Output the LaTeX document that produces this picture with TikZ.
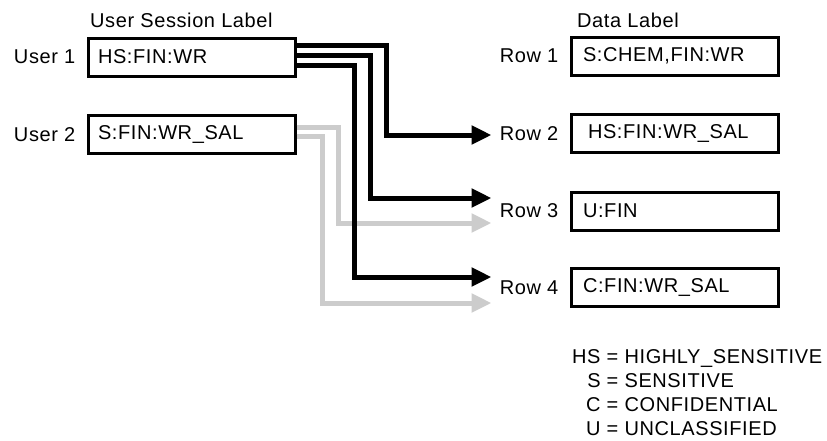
\documentclass[tikz,border=0pt]{standalone}
\usepackage{fontspec}
\setmainfont{Liberation Sans}[LetterSpace=3]
\usetikzlibrary{arrows.meta,positioning}
\definecolor{linegray}{RGB}{204,204,204}
\begin{document}
\begin{tikzpicture}[x=1pt,y=-1pt,
  font=\fontsize{20}{24}\selectfont,
  labelbox/.style={draw=black,line width=3pt,minimum width=207pt,minimum height=38pt,
    inner xsep=10pt,inner ysep=0pt,text width=187pt,align=left},
  sidelabel/.style={inner sep=0pt},
  link/.style={line width=5pt,-{Triangle[length=20pt,width=18pt]}},
  blacklink/.style={link,draw=black},
  graylink/.style={link,draw=linegray}
]
\useasboundingbox (0,0) rectangle (827,440);

% headers
\node[sidelabel,anchor=west] (hleft) at (90,20) {User Session Label};
\node[sidelabel,anchor=west] (hright) at (577,20) {Data Label};

% user boxes
\node[labelbox] (u1) at (191.5,57) {HS:FIN:WR};
\node[labelbox] (u2) at (191.5,134.5) {S:FIN:WR\_SAL};
\node[sidelabel,left=11pt of u1] (u1lab) {User 1};
\node[sidelabel,left=11pt of u2] (u2lab) {User 2};

% data boxes
\node[labelbox,inner xsep=12pt,text width=183pt] (r1) at (674.5,56) {S:CHEM,FIN:WR};
\node[labelbox,inner xsep=12pt,text width=183pt] (r2) at (674.5,133.5) {\hspace*{5pt}HS:FIN:WR\_SAL};
\node[labelbox,inner xsep=12pt,text width=183pt] (r3) at (674.5,211) {U:FIN};
\node[labelbox,inner xsep=12pt,text width=183pt] (r4) at (674.5,287.5) {C:FIN:WR\_SAL};
\node[sidelabel,left=11pt of r1] (r1lab) {Row 1};
\node[sidelabel,left=11pt of r2] (r2lab) {Row 2};
\node[sidelabel,left=11pt of r3] (r3lab) {Row 3};
\node[sidelabel,left=11pt of r4] (r4lab) {Row 4};

% gray connectors (User 2)
\draw[graylink] ([yshift=7.5pt]u2.east) -- ++(42,0) |- ([xshift=-78pt,yshift=-12pt]r3.west);
\draw[graylink] ([yshift=-1.5pt]u2.east) -- ++(26,0) |- ([xshift=-78pt,yshift=-15.5pt]r4.west);

% black connectors (User 1)
\draw[blacklink] ([yshift=12pt]u1.east) -- ++(90,0) |- ([xshift=-78pt,yshift=-1.5pt]r2.west);
\draw[blacklink] ([yshift=2pt]u1.east) -- ++(74,0) |- ([xshift=-78pt,yshift=13pt]r3.west);
\draw[blacklink] ([yshift=-8pt]u1.east) -- ++(58,0) |- ([xshift=-78pt,yshift=10.5pt]r4.west);

% legend
\node[sidelabel,anchor=north west] (legend) at (572,346) {%
  \begin{tabular}{@{}r@{ = }l@{}}
  HS & HIGHLY\_SENSITIVE\\
  S & SENSITIVE\\
  C & CONFIDENTIAL\\
  U & UNCLASSIFIED
  \end{tabular}};
\end{tikzpicture}
\end{document}
